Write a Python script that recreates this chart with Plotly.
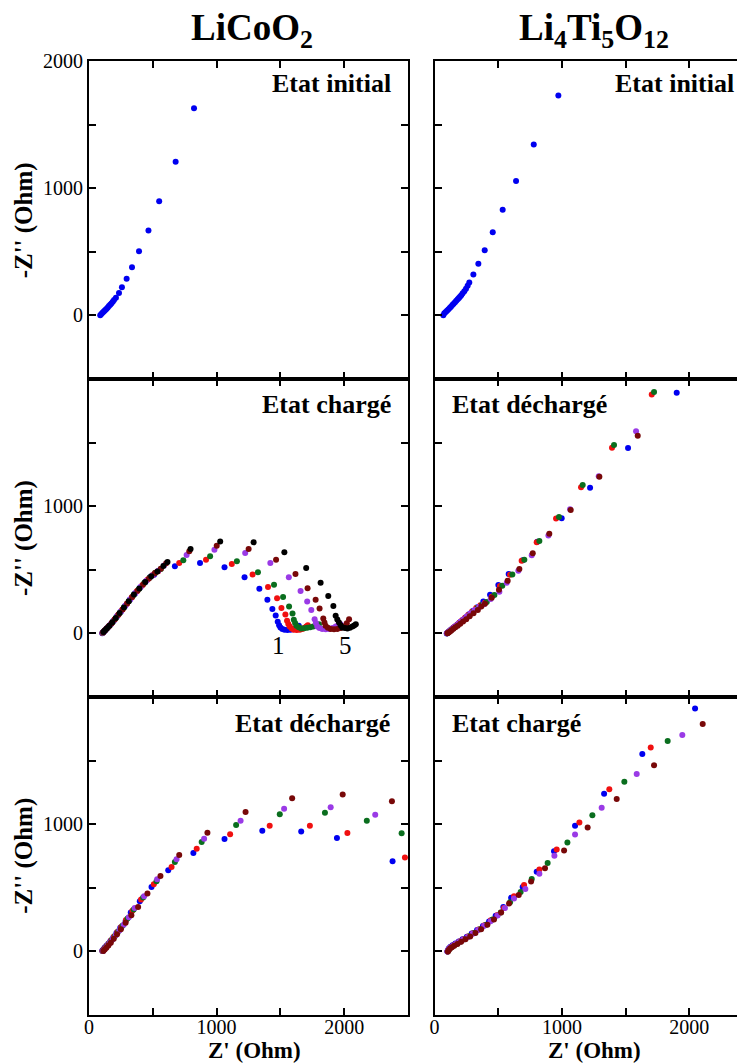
import plotly.graph_objects as go

# ---------------- colours / series names ----------------
SERIES = ["1", "2", "3", "4", "5", "6"]
COLORS = ["#0000f0", "#f01010", "#0a6e1e", "#9a3ae6", "#780808", "#000000"]

# ---------------- Panel 1 : LiCoO2, Etat initial ----------------
P1_X = [88, 97, 106, 114, 122, 130, 138, 147, 156, 166, 175, 186, 196, 211, 235, 258, 295, 337, 392, 466, 550, 679, 823]
P1_Y = [0, 10, 20, 28, 36, 44, 52, 62, 73, 84, 94, 107, 120, 138, 175, 222, 288, 379, 505, 668, 898, 1207, 1628]

# ---------------- Panel 2 : Li4Ti5O12, Etat initial ----------------
P2_X = [69, 77, 88, 98, 108, 119, 129, 140, 150, 161, 171, 182, 191, 200, 210, 221, 234, 247, 260, 273, 305, 344, 394, 457, 535, 640, 779, 972]
P2_Y = [0, 16, 26, 36, 46, 57, 68, 81, 92, 104, 115, 126, 136, 146, 159, 173, 190, 209, 232, 259, 322, 405, 513, 654, 830, 1057, 1343, 1728]

# ---------------- Panel 3 : LiCoO2, Etat chargé (6 cycles) ----------------
P3_X1 = [104, 112, 122, 135, 150, 170, 193, 220, 250, 283, 320, 360, 400, 440, 478, 510,
         673, 870, 1062, 1219, 1335, 1398, 1437, 1463, 1479, 1490, 1500, 1515, 1532, 1555, 1579, 1600, 1618, 1632, 1644]
P3_Y1 = [2, 10, 20, 34, 50, 72, 100, 134, 172, 215, 264, 314, 360, 403, 441, 462,
         528, 554, 520, 442, 351, 265, 192, 140, 91, 65, 47, 35, 28, 26, 28, 33, 39, 48, 60]
P3_X2 = [106, 115, 126, 140, 157, 178, 202, 230, 262, 297, 335, 375, 416, 458, 500, 542,
         707, 917, 1119, 1282, 1403, 1474, 1508, 1539, 1552, 1562, 1573, 1588, 1605, 1628, 1652, 1672, 1689, 1703, 1715]
P3_Y2 = [4, 13, 25, 40, 58, 82, 111, 147, 188, 233, 283, 331, 377, 421, 460, 489,
         554, 580, 546, 463, 364, 276, 200, 148, 99, 75, 55, 38, 28, 26, 28, 35, 44, 54, 65]
P3_X3 = [108, 118, 130, 145, 164, 186, 212, 242, 275, 311, 350, 391, 433, 476, 520, 563,
         739, 949, 1159, 1324, 1450, 1521, 1568, 1595, 1605, 1615, 1626, 1643, 1663, 1686, 1710, 1734, 1757, 1780, 1802]
P3_Y3 = [6, 17, 29, 45, 65, 91, 123, 162, 205, 252, 302, 350, 396, 439, 476, 507,
         575, 606, 567, 481, 382, 286, 211, 156, 107, 82, 60, 48, 39, 40, 44, 49, 55, 63, 73]
P3_X4 = [109, 120, 133, 149, 169, 193, 220, 251, 286, 324, 364, 406, 450, 495, 542, 588,
         765, 983, 1224, 1421, 1566, 1658, 1710, 1742, 1768, 1778, 1789, 1806, 1828, 1855, 1881, 1908, 1933, 1953, 1972]
P3_Y4 = [7, 19, 32, 49, 70, 100, 134, 173, 219, 268, 318, 366, 414, 455, 492, 534,
         617, 658, 632, 554, 442, 333, 250, 185, 112, 82, 55, 42, 34, 32, 34, 43, 55, 64, 73]
P3_X5 = [111, 123, 137, 154, 176, 201, 230, 263, 299, 338, 380, 424, 470, 517, 563, 605,
         786, 1001, 1251, 1466, 1618, 1713, 1776, 1807, 1836, 1845, 1854, 1872, 1894, 1920, 1946, 1972, 1999, 2020, 2038]
P3_Y5 = [9, 22, 37, 54, 78, 110, 147, 189, 236, 287, 336, 385, 432, 474, 509, 551,
         645, 690, 664, 580, 468, 356, 265, 195, 117, 86, 60, 44, 34, 32, 34, 43, 55, 80, 112]
P3_X6 = [113, 126, 141, 160, 183, 210, 240, 274, 312, 352, 395, 441, 488, 536, 583, 615,
         796, 1028, 1290, 1531, 1702, 1815, 1875, 1915, 1933, 1946, 1959, 1972, 1985, 2005, 2025, 2045, 2064, 2078, 2091]
P3_Y6 = [11, 25, 41, 61, 87, 121, 160, 203, 252, 305, 353, 404, 449, 486, 529, 561,
         664, 723, 716, 638, 515, 398, 294, 216, 138, 110, 86, 65, 47, 42, 39, 45, 55, 63, 73]

# ---------------- Panel 4 : Li4Ti5O12, Etat déchargé (5 cycles) ----------------
P4_X1 = [96, 104, 113, 124, 136, 150, 166, 183, 202, 223, 246, 271, 300, 336, 383, 436, 501, 582, 692, 807, 998, 1221, 1519, 1901]
P4_Y1 = [0, 7, 15, 24, 34, 46, 59, 73, 90, 108, 128, 150, 176, 205, 250, 304, 380, 468, 575, 721, 906, 1145, 1458, 1892]
P4_X2 = [99, 108, 118, 130, 143, 158, 175, 194, 215, 238, 264, 293, 327, 360, 396, 449, 514, 593, 684, 802, 954, 1150, 1393, 1705]
P4_Y2 = [2, 10, 18, 29, 40, 53, 67, 83, 101, 121, 144, 170, 199, 222, 242, 289, 372, 461, 572, 716, 903, 1148, 1460, 1877]
P4_X3 = [100, 110, 121, 133, 147, 163, 181, 201, 223, 247, 274, 304, 338, 372, 410, 470, 532, 611, 705, 823, 977, 1163, 1409, 1723]
P4_Y3 = [2, 10, 19, 29, 40, 53, 67, 83, 101, 121, 144, 170, 199, 224, 247, 302, 375, 463, 580, 726, 916, 1166, 1481, 1897]
P4_X4 = [97, 106, 116, 127, 140, 154, 170, 188, 208, 230, 255, 283, 315, 350, 389, 441, 509, 567, 658, 763, 894, 1064, 1289, 1582]
P4_Y4 = [1, 8, 16, 25, 36, 48, 61, 76, 93, 112, 134, 158, 185, 208, 229, 271, 328, 398, 492, 614, 770, 976, 1236, 1590]
P4_X5 = [101, 111, 122, 134, 148, 164, 182, 202, 224, 249, 276, 306, 340, 367, 396, 449, 506, 574, 666, 771, 901, 1069, 1294, 1595]
P4_Y5 = [1, 8, 16, 25, 36, 48, 61, 76, 93, 112, 134, 158, 185, 212, 234, 281, 343, 414, 507, 630, 783, 971, 1231, 1554]

# ---------------- Panel 5 : LiCoO2, Etat déchargé (5 cycles) ----------------
P5_X1 = [104, 112, 122, 135, 150, 168, 190, 215, 245, 287, 327, 398, 490, 621, 818, 1062, 1358, 1663, 1943, 2379]
P5_Y1 = [5, 15, 28, 42, 58, 82, 110, 145, 185, 240, 306, 395, 507, 638, 773, 883, 949, 943, 891, 708]
P5_X2 = [106, 115, 126, 139, 155, 174, 196, 222, 252, 290, 340, 408, 508, 647, 844, 1106, 1416, 1731, 2025, 2476]
P5_Y2 = [4, 15, 28, 44, 63, 88, 117, 152, 192, 246, 319, 408, 528, 664, 808, 922, 988, 988, 930, 739]
P5_X3 = [108, 118, 129, 143, 160, 180, 203, 230, 262, 302, 350, 424, 529, 673, 883, 1153, 1495, 1849, 2177, 2450]
P5_Y3 = [4, 15, 28, 45, 66, 92, 122, 158, 201, 258, 329, 423, 551, 703, 860, 993, 1079, 1090, 1027, 928]
P5_X4 = [110, 120, 132, 147, 165, 186, 210, 238, 272, 312, 358, 432, 534, 686, 902, 1188, 1529, 1894, 2243]
P5_Y4 = [4, 15, 29, 46, 68, 95, 127, 165, 210, 268, 342, 434, 567, 724, 886, 1027, 1121, 1134, 1074]
P5_X5 = [112, 123, 136, 152, 171, 194, 220, 250, 287, 332, 385, 458, 560, 707, 928, 1227, 1592, 1988, 2374]
P5_Y5 = [3, 14, 28, 46, 69, 99, 134, 175, 226, 285, 350, 455, 593, 758, 933, 1097, 1205, 1233, 1181]

# ---------------- Panel 6 : Li4Ti5O12, Etat chargé (5 cycles) ----------------
P6_X1 = [101, 106, 114, 126, 142, 164, 190, 220, 254, 292, 334, 380, 428, 480, 540, 601, 692, 802, 938, 1103, 1331, 1631, 2045]
P6_Y1 = [0, 12, 24, 36, 48, 62, 77, 95, 116, 140, 168, 200, 236, 280, 350, 421, 507, 627, 787, 988, 1239, 1552, 1910]
P6_X2 = [103, 109, 118, 130, 147, 170, 197, 228, 263, 302, 345, 392, 442, 494, 545, 624, 703, 823, 959, 1137, 1372, 1697]
P6_Y2 = [0, 12, 24, 35, 47, 61, 77, 96, 118, 143, 172, 206, 244, 287, 342, 434, 523, 643, 802, 1014, 1275, 1604]
P6_X3 = [104, 111, 120, 133, 151, 175, 203, 236, 272, 312, 356, 404, 455, 520, 593, 676, 763, 888, 1043, 1239, 1490, 1830]
P6_Y3 = [0, 12, 23, 34, 46, 60, 76, 96, 119, 145, 175, 210, 250, 305, 387, 468, 570, 695, 857, 1071, 1333, 1654]
P6_X4 = [102, 108, 116, 128, 145, 167, 194, 226, 261, 300, 343, 390, 440, 495, 553, 624, 713, 823, 941, 1103, 1312, 1587, 1945]
P6_Y4 = [0, 11, 22, 33, 45, 58, 74, 93, 114, 139, 168, 201, 238, 283, 342, 415, 491, 611, 753, 920, 1129, 1395, 1701]
P6_X5 = [105, 112, 122, 136, 155, 180, 209, 243, 280, 321, 366, 415, 467, 523, 585, 661, 758, 867, 1017, 1202, 1430, 1723, 2105]
P6_Y5 = [0, 11, 22, 33, 45, 59, 75, 95, 118, 145, 175, 210, 250, 305, 376, 444, 549, 653, 794, 975, 1199, 1463, 1787]

# ---------------- Text / ticks ----------------
TITLE_LEFT = "LiCoO<sub>2</sub>"
TITLE_RIGHT = "Li<sub>4</sub>Ti<sub>5</sub>O<sub>12</sub>"
PANEL_LABELS = ["Etat initial", "Etat initial", "Etat chargé", "Etat déchargé", "Etat déchargé", "Etat chargé"]
Y_TITLE = "-Z'' (Ohm)"
X_TITLE = "Z' (Ohm)"
X_TICKVALS = [0, 1000, 2000]
Y_TICKVALS_TOP = [0, 1000, 2000]
Y_TICKVALS = [0, 1000]
MINOR_STEP = 500

FONT = "Liberation Serif"
MS = 6

fig = go.Figure()

def add(x, y, color, ax):
    fig.add_trace(go.Scatter(x=x, y=y, mode="markers", xaxis="x" + ax, yaxis="y" + ax,
                             marker=dict(size=MS, color=color), showlegend=False,
                             hoverinfo="x+y"))

add(P1_X, P1_Y, COLORS[0], "")
add(P2_X, P2_Y, COLORS[0], "2")
for xs, ys, c in zip([P3_X1, P3_X2, P3_X3, P3_X4, P3_X5, P3_X6],
                     [P3_Y1, P3_Y2, P3_Y3, P3_Y4, P3_Y5, P3_Y6], COLORS):
    add(xs, ys, c, "3")
for xs, ys, c in zip([P4_X1, P4_X2, P4_X3, P4_X4, P4_X5],
                     [P4_Y1, P4_Y2, P4_Y3, P4_Y4, P4_Y5], COLORS[:5]):
    add(xs, ys, c, "4")
for xs, ys, c in zip([P5_X1, P5_X2, P5_X3, P5_X4, P5_X5],
                     [P5_Y1, P5_Y2, P5_Y3, P5_Y4, P5_Y5], COLORS[:5]):
    add(xs, ys, c, "5")
for xs, ys, c in zip([P6_X1, P6_X2, P6_X3, P6_X4, P6_X5],
                     [P6_Y1, P6_Y2, P6_Y3, P6_Y4, P6_Y5], COLORS[:5]):
    add(xs, ys, c, "6")

LEFT_DOM = [0, 0.4863]
RIGHT_DOM = [0.5267, 1]
ROW_DOMS = [[0.6667, 1], [0.3333, 0.6667], [0, 0.3333]]

axfont = dict(family=FONT, size=20, color="black")
minor = dict(ticks="inside", ticklen=7, tickwidth=1.5, tickcolor="black", dtick=MINOR_STEP,
             tick0=0, showgrid=False)
common = dict(showline=True, linewidth=2, linecolor="black", ticks="inside", ticklen=7,
              tickwidth=1.5, tickcolor="black", showgrid=False, zeroline=False,
              tickfont=axfont, tickmode="array", minor=minor)

layout = {}
names = ["", "2", "3", "4", "5", "6"]
for i, n in enumerate(names):
    row, col = i // 2, i % 2
    xdom = LEFT_DOM if col == 0 else RIGHT_DOM
    xr = [0, 2500] if col == 0 else [0, 2437]
    xa = dict(common, domain=xdom, range=xr, anchor="y" + n, tickvals=X_TICKVALS,
              showticklabels=(row == 2), mirror="ticks", ticklabelstandoff=-7)
    ya = dict(common, domain=ROW_DOMS[row], range=[-500, 2000], anchor="x" + n,
              tickvals=(Y_TICKVALS_TOP if row == 0 else Y_TICKVALS),
              showticklabels=(col == 0), mirror=("ticks" if col == 0 else False))
    layout["xaxis" + n] = xa
    layout["yaxis" + n] = ya

fig.update_layout(**layout)

ann = []
bold = dict(family=FONT, size=26, color="black")
lab_pos = [(0.953, 0.928, "right"), (0.971, 0.928, "right"),
           (0.953, 0.921, "right"), (0.05, 0.921, "left"),
           (0.951, 0.918, "right"), (0.05, 0.918, "left")]
for n, (xp, yp, anc), t in zip(names, lab_pos, PANEL_LABELS):
    ann.append(dict(text="<b>" + t + "</b>", xref="x" + n + " domain", yref="y" + n + " domain",
                    x=xp, y=yp, xanchor=anc, yanchor="middle", showarrow=False, font=bold))
ann.append(dict(text="<b>" + TITLE_LEFT + "</b>", xref="x domain", yref="y domain", x=0.511, y=1.095,
                xanchor="center", yanchor="middle", showarrow=False,
                font=dict(family=FONT, size=37, color="black")))
ann.append(dict(text="<b>" + TITLE_RIGHT + "</b>", xref="x2 domain", yref="y2 domain", x=0.514, y=1.095,
                xanchor="center", yanchor="middle", showarrow=False,
                font=dict(family=FONT, size=37, color="black")))
for yp in [0.833, 0.5, 0.167]:
    ann.append(dict(text="<b>" + Y_TITLE + "</b>", xref="paper", yref="paper", x=-0.099, y=yp,
                    xanchor="center", yanchor="middle", textangle=-90, showarrow=False,
                    font=dict(family=FONT, size=25, color="black")))
ann.append(dict(text="<b>" + X_TITLE + "</b>", xref="x5 domain", yref="paper", x=0.52, y=-0.037,
                xanchor="center", yanchor="middle", showarrow=False,
                font=dict(family=FONT, size=23, color="black")))
ann.append(dict(text="<b>" + X_TITLE + "</b>", xref="x6 domain", yref="paper", x=0.514, y=-0.037,
                xanchor="center", yanchor="middle", showarrow=False,
                font=dict(family=FONT, size=23, color="black")))
for t, xv in [("1", 1487), ("5", 2012)]:
    ann.append(dict(text=t, xref="x3", yref="y3", x=xv, y=-95, xanchor="center", yanchor="middle",
                    showarrow=False, font=dict(family=FONT, size=25, color="black")))

# the page body has an 8 px margin, so the figure is 8 px smaller and margins shifted
fig.update_layout(annotations=ann, width=737, height=1056,
                  margin=dict(l=81, r=0, t=53, b=49, autoexpand=False),
                  paper_bgcolor="white", plot_bgcolor="white", showlegend=False)

fig.write_html("out.html")
